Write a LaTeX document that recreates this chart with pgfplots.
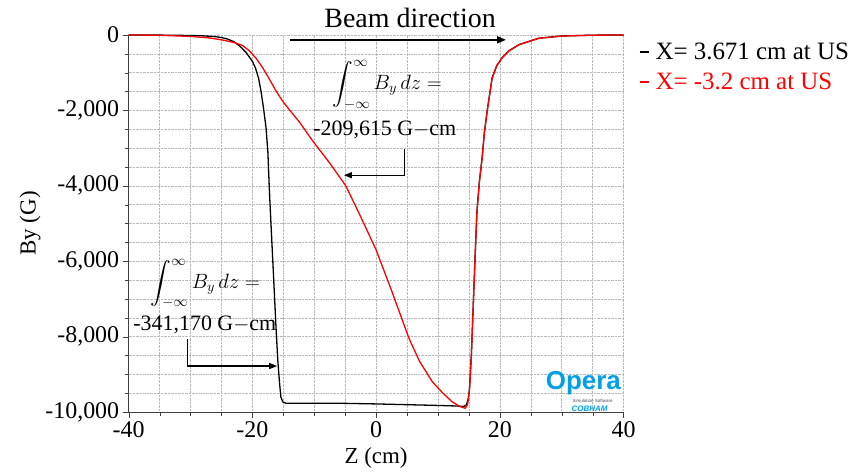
\documentclass[border=0pt]{standalone}
\usepackage{amsmath}
\usepackage{pgfplots}
\pgfplotsset{compat=1.18}
\usepackage{fontspec}
\setmainfont{Liberation Serif}
\newfontfamily\logofont{Liberation Sans}
\usetikzlibrary{arrows.meta}
\definecolor{operablue}{RGB}{0,160,230}

\begin{document}
\begin{tikzpicture}
\begin{axis}[
  scale only axis,
  width=496pt, height=378pt,
  xmin=-40, xmax=40, ymin=-10000, ymax=0,
  xtick={-40,-20,...,40}, minor x tick num=3,
  ytick={-10000,-8000,...,0}, minor y tick num=3,
  scaled y ticks=false,
  grid=both,
  major grid style={densely dotted, gray!55},
  minor grid style={densely dotted, gray!55},
  axis lines*=left,
  axis line style={black!75},
  tick align=outside,
  major tick length=6pt, minor tick length=4pt,
  tick style={black!75},
  /pgf/number format/.cd, 1000 sep={,}, assume math mode=true,
  /pgfplots/.cd,
  tick label style={font=\fontsize{24}{28}\selectfont},
  label style={font=\fontsize{23}{27}\selectfont},
  xlabel={Z (cm)}, ylabel={By (G)},
  xlabel style={yshift=-3pt},
  ylabel style={yshift=-2pt},
  clip=false,
  legend style={at={(1.025,0.99)}, anchor=north west, draw=none, fill=none,
    font=\fontsize{25}{29}\selectfont, row sep=8pt,
    legend cell align=left},
  legend image code/.code={\draw[#1, line width=1.3pt] (0pt,0pt) -- (9pt,0pt);},
]
% Probe at X = 3.671 cm
\addplot[black, line width=1.3pt] coordinates {
(-40,0) (-35,-5) (-30,-15) (-28,-25) (-26,-45) (-25,-70) (-24,-110) (-23,-180)
(-22,-300) (-21,-470) (-20,-700) (-19.5,-880) (-19,-1150) (-18.6,-1500)
(-18.2,-1950) (-17.8,-2450) (-17.5,-3100) (-17.26,-4100) (-17,-5000)
(-16.7,-6000) (-16.45,-6850) (-16.2,-7700) (-15.9,-8620) (-15.6,-9250)
(-15.4,-9600) (-15.1,-9730) (-14.6,-9765) (-14,-9765) (-10,-9765) (-5,-9770)
(0,-9785) (5,-9805) (10,-9825) (13,-9840) (14.2,-9850) (14.6,-9810)
(14.9,-9650) (15.1,-9380) (15.4,-8480) (15.7,-7180) (16,-5880) (16.3,-4680)
(16.7,-3880) (17.15,-3240) (17.5,-2590) (17.95,-2020) (18.75,-1140)
(19.5,-815) (20.4,-598) (21.5,-418) (23.1,-258) (26.3,-88) (30,-28) (35,-7) (40,0)
};
\addlegendentry{\,X= 3.671 cm at US}
% Probe at X = -3.2 cm
\addplot[red, line width=1.3pt] coordinates {
(-40,0) (-35,-10) (-30,-40) (-27,-80) (-25,-130) (-23,-200) (-21.6,-280)
(-20.5,-420) (-19.4,-620) (-18.3,-880) (-17.3,-1160) (-16.2,-1480)
(-15.1,-1760) (-14,-1990) (-12.4,-2310) (-10.3,-2800) (-7.5,-3400)
(-4.9,-4000) (-2.5,-4820) (0,-5700) (2.5,-6780) (5.3,-8040) (7,-8650)
(9.1,-9200) (10.8,-9500) (12.3,-9730) (13.5,-9850) (14.4,-9900) (14.8,-9800)
(15.1,-9400) (15.4,-8500) (15.7,-7200) (16,-5900) (16.3,-4700) (16.7,-3900)
(17.15,-3260) (17.5,-2600) (17.95,-2030) (18.75,-1150) (19.5,-820)
(20.4,-600) (21.5,-420) (23.1,-260) (26.3,-90) (30,-30) (35,-8) (40,0)
};
\addlegendentry{\,\textcolor{red}{X= -3.2 cm at US}}

% beam direction
\draw[-{Triangle[length=9pt,width=7pt]}, line width=2pt]
  (axis cs:-14,-130) -- (axis cs:21,-130);
\node[font=\fontsize{28}{32}\selectfont] at (axis cs:5.5,450) {Beam direction};

% field integral, X = -3.2 cm
\node[font=\fontsize{22}{26}\selectfont] at (axis cs:1.8,-1330)
  {$\displaystyle\int_{-\infty}^{\infty} B_y\,dz =$};
\node[font=\fontsize{22}{26}\selectfont] at (axis cs:1.4,-2520) {-209,615 G$-$cm};
\draw[-{Triangle[length=8pt,width=6pt]}, line width=1.3pt]
  (axis cs:4.6,-3020) -- (axis cs:4.6,-3720) -- (axis cs:-5.2,-3720);

% field integral, X = 3.671 cm
\node[font=\fontsize{22}{26}\selectfont] at (axis cs:-27.6,-6600)
  {$\displaystyle\int_{-\infty}^{\infty} B_y\,dz =$};
\node[font=\fontsize{22}{26}\selectfont] at (axis cs:-27.7,-7680) {-341,170 G$-$cm};
\draw[-{Triangle[length=8pt,width=6pt]}, line width=1.3pt]
  (axis cs:-30.5,-8060) -- (axis cs:-30.5,-8780) -- (axis cs:-16,-8780);

% software logo
\node[font=\logofont\bfseries\fontsize{26}{28}\selectfont, text=operablue, inner sep=0pt]
  at (axis cs:33.5,-9230) {Opera};
\node[font=\logofont\fontsize{4.5}{5}\selectfont, text=black!70, inner sep=0pt]
  at (axis cs:35,-9700) {Simulation Software};
\node[font=\logofont\bfseries\itshape\fontsize{8}{9}\selectfont, text=operablue, inner sep=0pt]
  at (axis cs:34.5,-9900) {COBHAM};
\end{axis}
% page extent
\path (-129pt,-59pt) rectangle (725pt,413pt);
\end{tikzpicture}
\end{document}
